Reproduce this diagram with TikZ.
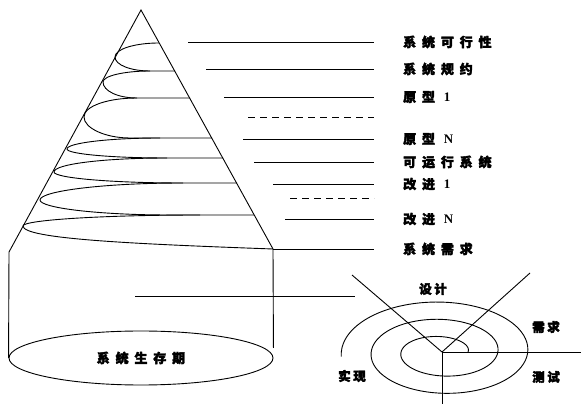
\documentclass[tikz,border=0pt]{standalone}
\usepackage{fontspec}
\setmainfont{Liberation Serif}
\newfontfamily\cjk{Noto Sans CJK SC}[LetterSpace=45, FakeBold=2.5]
\newfontfamily\cjktight{Noto Sans CJK SC}[LetterSpace=20, FakeBold=2.5]
\usepackage{tikz}
\usetikzlibrary{shapes.geometric}

\begin{document}
\begin{tikzpicture}[
    x=1pt, y=1pt,
    line/.style={line width=0.9pt},
    leader/.style={line width=0.9pt},
    dashleader/.style={line width=0.9pt, dash pattern=on 7pt off 5pt},
    label/.style={anchor=west, inner sep=0pt, font=\fontsize{13}{13}\selectfont\cjk\bfseries},
    spirallabel/.style={inner sep=0pt, font=\fontsize{12.5}{13}\selectfont\cjktight\bfseries}
]
\useasboundingbox (0,0) rectangle (581,404);

%==============================================================================
% Cone with helix
%==============================================================================
\draw[line] (9,152) -- (141,394) -- (273,155);

% Helix loops
\draw[line] (159,361) .. controls (135,361) and (115,355) .. (115,347)
    .. controls (115,339) and (131,333) .. (150,333) -- (175,333);
\draw[line] (150,333) .. controls (124,333) and (103,328) .. (103,322)
    .. controls (103,313) and (118,306) .. (137,306) -- (190,306);
\draw[line] (137,306) .. controls (108,306) and (84,298) .. (84,287)
    .. controls (84,276) and (105,266) .. (130,266) -- (212,266);
\draw[line] (160,266) .. controls (109,266) and (67,261) .. (67,255)
    .. controls (67,250) and (112,246) .. (167,246) -- (223,246);
\draw[line] (167,246) .. controls (105,246) and (54,240) .. (54,232)
    .. controls (54,226) and (112,221) .. (183,221) -- (237,221);
\draw[line] (183,221) .. controls (104,221) and (40,213) .. (40,204)
    .. controls (40,196) and (99,189) .. (170,189) -- (254,189);
\draw[line] (200,189) .. controls (103,189) and (23,184) .. (23,178)
    .. controls (23,165) and (135,160) .. (273,155);

%==============================================================================
% Cylinder
%==============================================================================
\node[ellipse, draw, line width=0.9pt, inner sep=0pt, minimum width=264, minimum height=54,
    font=\fontsize{13}{13}\selectfont\cjk\bfseries] (base) at (141,46) {系统生存期};

\draw[line] (base.west) -- (9,152);
\draw[line] (273,155) -- ([yshift=10pt]base.east);
\draw[line] (135,108) -- (355,108);

%==============================================================================
% Stage labels
%==============================================================================
\node[label] (feas) at (403,362) {系统可行性};
\node[label] (spec) at (403,335) {系统规约};
\node[label] (proto1) at (403,307) {原型 {\rmfamily 1}};
\node[label] (protoN) at (403,265) {原型 {\rmfamily N}};
\node[label] (runsys) at (403,242) {可运行系统};
\node[label] (impr1) at (403,220) {改进 {\rmfamily 1}};
\node[label] (imprN) at (403,185) {改进 {\rmfamily N}};
\node[label] (req) at (403,155) {系统需求};

% Leader lines
\draw[leader] (188,362) -- ([xshift=-29pt]feas.west);
\draw[leader] (206,335) -- ([xshift=-29pt]spec.west);
\draw[leader] (224,307) -- ([xshift=-29pt]proto1.west);
\draw[dashleader] (248,287) -- (374,287);
\draw[leader] (243,265) -- ([xshift=-29pt]protoN.west);
\draw[leader] (254,242) -- ([xshift=-29pt]runsys.west);
\draw[leader] (273,220) -- ([xshift=-29pt]impr1.west);
\draw[dashleader] (290,206) -- (374,206);
\draw[leader] (285,185) -- ([xshift=-29pt]imprN.west);
\draw[leader] (273,155) -- ([xshift=-29pt]req.west);

%==============================================================================
% Spiral model
%==============================================================================
\coordinate (o) at (442,52);

\draw[line] plot[domain=0:905, samples=200, smooth]
    ({442+(26+0.083*\x)*cos(\x)}, {52+(11+0.048*\x)*sin(\x)});

\draw[line] (o) -- (352,129);
\draw[line] (o) -- (530,131);
\draw[line] (o) -- (581,52);
\draw[line] (o) -- (442,0);

\node[spirallabel] (design) at (433,115) {设计};
\node[spirallabel] (need) at (546,77) {需求};
\node[spirallabel] (build) at (352,28) {实现};
\node[spirallabel] (test) at (546,27) {测试};

\end{tikzpicture}
\end{document}
